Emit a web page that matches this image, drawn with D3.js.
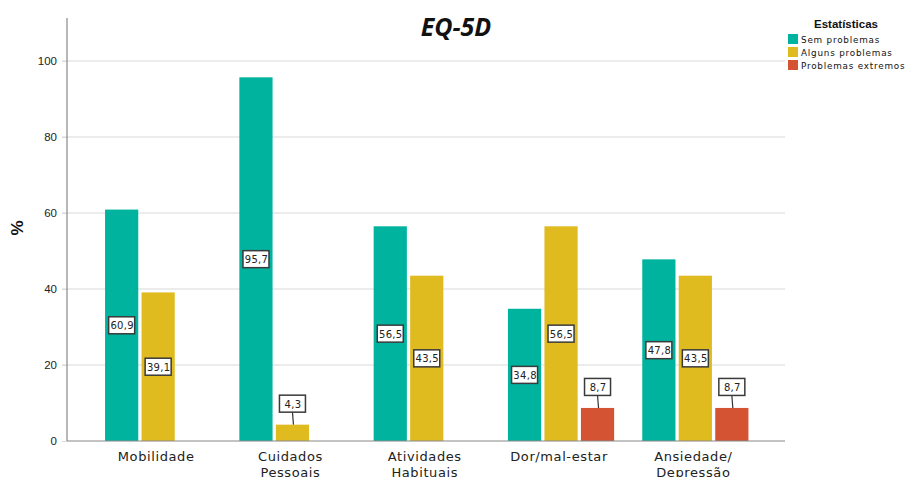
<!DOCTYPE html>
<html><head><meta charset="utf-8">
<script src="https://cdn.jsdelivr.net/npm/d3@7"></script>
<style>body{margin:0;background:#fff}svg{display:block}</style>
</head><body>
<svg id="c" width="906" height="477"></svg>
<script>
const categories = [["Mobilidade"],["Cuidados","Pessoais"],["Atividades","Habituais"],["Dor/mal-estar"],["Ansiedade/","Depressão"]];
const seriesNames = ["Sem problemas","Alguns problemas","Problemas extremos"];
const semProblemas = [60.9, 95.7, 56.5, 34.8, 47.8];
const algunsProblemas = [39.1, 4.3, 43.5, 56.5, 43.5];
const problemasExtremos = [null, null, null, 8.7, 8.7];
const yTicks = [0, 20, 40, 60, 80, 100];
const colors = ["#00b39f", "#e0bb20", "#d35333"];

const svg = d3.select("#c");
const seriesVals = [semProblemas, algunsProblemas, problemasExtremos];
const y = d3.scaleLinear().domain([0, 100]).range([441, 61]);
const x0 = d3.scaleBand().domain(d3.range(categories.length)).range([91, 762.5]).paddingInner(0.185).paddingOuter(0.0925);
const x1 = d3.scaleBand().domain(d3.range(3)).range([0, x0.bandwidth()]).paddingInner(0.09).paddingOuter(0.045);

// gridlines
svg.append("g").selectAll("line").data(yTicks.filter(d => d > 0)).join("line")
  .attr("x1", 62).attr("x2", 785).attr("y1", d => y(d)).attr("y2", d => y(d))
  .attr("stroke", "#d9d9d9").attr("stroke-width", 1.2);

// y axis
const yAxis = d3.axisLeft(y).tickValues(yTicks).tickSize(5).tickFormat(d3.format("d"));
const gy = svg.append("g").attr("transform", "translate(67,0)").call(yAxis);
gy.select(".domain").remove();
gy.selectAll(".tick line").attr("stroke", "#d9d9d9");
gy.selectAll(".tick text").attr("font-family", "Liberation Sans, Arial, sans-serif").attr("font-size", 11.5).attr("fill", "#222").attr("dx", -2);
svg.append("line").attr("x1", 67).attr("x2", 67).attr("y1", 18).attr("y2", 441).attr("stroke", "#888").attr("stroke-width", 1.2);

// bars
const bars = [];
seriesVals.forEach((vals, s) => vals.forEach((v, i) => { if (v != null) bars.push({s, i, v}); }));
svg.append("g").selectAll("rect").data(bars).join("rect")
  .attr("x", d => x0(d.i) + x1(d.s)).attr("width", x1.bandwidth())
  .attr("y", d => y(d.v)).attr("height", d => y(0) - y(d.v))
  .attr("fill", d => colors[d.s]);

// x axis line
svg.append("line").attr("x1", 67).attr("x2", 785).attr("y1", 441).attr("y2", 441).attr("stroke", "#888").attr("stroke-width", 1.2);

// x labels
const xl = svg.append("g");
categories.forEach((lines, i) => {
  const cx = x0(i) + x0.bandwidth()/2 - 2;
  const t = xl.append("text").attr("x", cx).attr("y", 461)
    .attr("text-anchor", "middle").attr("font-family", "DejaVu Sans, sans-serif").attr("font-size", 13).attr("letter-spacing", 0.6).attr("fill", "#222");
  lines.forEach((l, k) => t.append("tspan").attr("x", cx).attr("dy", k ? 16 : 0).text(l));
});

// data labels
const fmt = v => d3.format(".1f")(v).replace(".", ",");
const lg = svg.append("g");
bars.forEach(d => {
  const cx = x0(d.i) + x1(d.s) + x1.bandwidth()/2;
  const small = d.v < 15;
  const cy = small ? y(d.v) - 21 : (y(d.v) + y(0)) / 2;
  const w = 26, h = 17;
  if (small) {
    lg.append("line").attr("x1", cx).attr("x2", cx + 1).attr("y1", cy + h/2).attr("y2", y(d.v)).attr("stroke", "#333").attr("stroke-width", 1.2);
  }
  lg.append("rect").attr("x", cx - w/2).attr("y", cy - h/2).attr("width", w).attr("height", h)
    .attr("fill", "#fff").attr("stroke", "#3a3a3a").attr("stroke-width", 1.5);
  lg.append("text").attr("x", cx + 0.5).attr("y", cy + 4).attr("text-anchor", "middle")
    .attr("font-family", "DejaVu Sans, sans-serif").attr("font-size", 10).attr("letter-spacing", 0.3).attr("fill", "#222").text(fmt(d.v));
});

// y title
svg.append("text").attr("transform", "translate(23,228) rotate(-90)").attr("text-anchor", "middle")
  .attr("font-family", "Liberation Sans, Arial, sans-serif").attr("font-weight", "bold").attr("font-size", 17).attr("fill", "#111").text("%");

// title
svg.append("text").attr("x", 456).attr("y", 36).attr("text-anchor", "middle")
  .attr("font-family", "Open Sans, sans-serif").attr("font-weight", "bold").attr("font-style", "italic").attr("font-size", 25).attr("fill", "#111").text("EQ-5D");

// legend
const leg = svg.append("g");
leg.append("text").attr("x", 846).attr("y", 28).attr("text-anchor", "middle")
  .attr("font-family", "Liberation Sans, Arial, sans-serif").attr("font-weight", "bold").attr("font-size", 11.5).attr("fill", "#111").text("Estatísticas");
seriesNames.forEach((n, k) => {
  const yy = 34 + k * 13;
  leg.append("rect").attr("x", 788).attr("y", yy).attr("width", 10).attr("height", 10).attr("fill", colors[k]);
  leg.append("text").attr("x", 801).attr("y", yy + 8.5).attr("font-family", "DejaVu Sans, sans-serif").attr("font-size", 8.8)
    .attr("letter-spacing", 0.8).attr("fill", "#111").text(n);
});
</script>
</body></html>
